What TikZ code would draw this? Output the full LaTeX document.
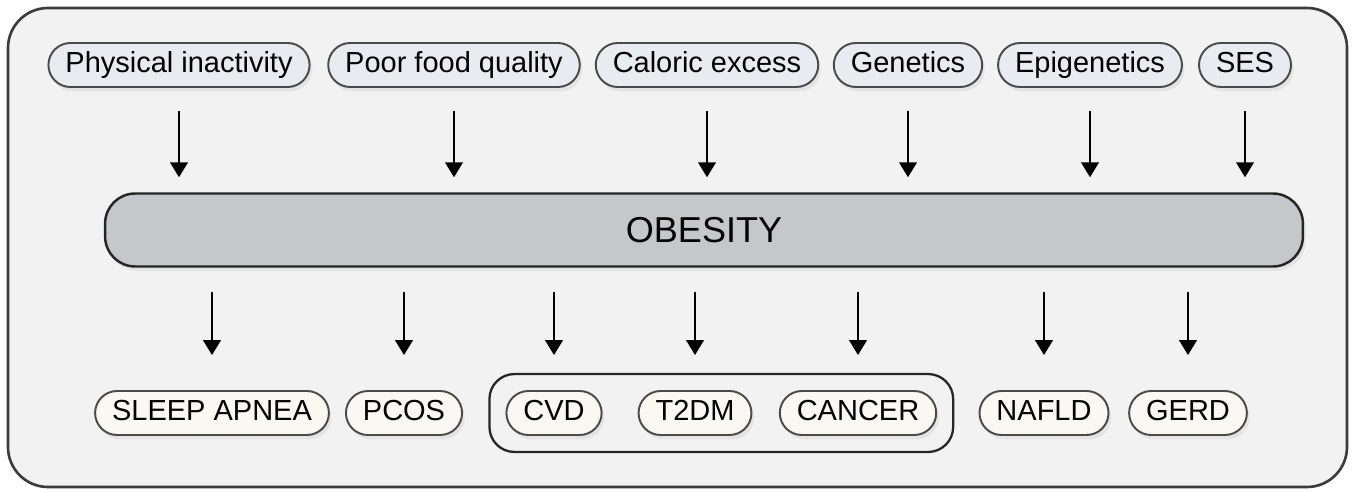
\documentclass[tikz,border=0pt]{standalone}
\usepackage{fontspec}
\setmainfont{Liberation Sans}
\usetikzlibrary{arrows.meta,fit,shadows}
\definecolor{panelfill}{HTML}{F2F2F2}
\definecolor{panelline}{HTML}{3C3C3C}
\definecolor{pillline}{HTML}{4A4A4A}
\definecolor{causefill}{HTML}{E8ECF0}
\definecolor{effectfill}{HTML}{FBF8F3}
\definecolor{barfill}{HTML}{C5C7CA}
\begin{document}
\begin{tikzpicture}[x=0.02cm, y=-0.02cm, >={Triangle[length=8.5pt,width=10pt]},
  cause/.style={draw=pillline, fill=causefill, line width=1.1pt, rounded corners=0.44cm,
    minimum height=0.88cm, inner xsep=0.34cm, text height=12pt, text depth=3.5pt,
    font=\fontsize{16.5}{20}\selectfont,
    drop shadow={opacity=0.12, shadow xshift=1.5pt, shadow yshift=-2.5pt}},
  effect/.style={cause, fill=effectfill},
  link/.style={->, line width=1.2pt}]
\useasboundingbox (0,0) rectangle (1355,493);
\draw[panelline, fill=panelfill, line width=1.5pt, rounded corners=0.8cm] (8,8) rectangle (1347,487);
% causes
\node[cause] (inact) at (179,65) {Physical inactivity};
\node[cause] (food) at (454,65) {Poor food quality};
\node[cause] (calor) at (707,65) {Caloric excess};
\node[cause] (genet) at (908,65) {Genetics};
\node[cause] (epig) at (1090,65) {Epigenetics};
\node[cause] (ses) at (1245,65) {SES};
% obesity
\node[draw=black!85, fill=barfill, line width=1.4pt, rounded corners=0.6cm,
  minimum width=23.96cm, minimum height=1.46cm, font=\fontsize{20.5}{24}\selectfont,
  drop shadow={opacity=0.12, shadow xshift=1.5pt, shadow yshift=-2.5pt}] (obes) at (704,230) {OBESITY};
% consequences
\node[effect] (apnea) at (212,413) {SLEEP APNEA};
\node[effect] (pcos) at (404,413) {PCOS};
\node[effect] (cvd) at (554,413) {CVD};
\node[effect] (t2dm) at (695,413) {T2DM};
\node[effect] (cancer) at (858,413) {CANCER};
\node[effect] (nafld) at (1044,413) {NAFLD};
\node[effect] (gerd) at (1188,413) {GERD};
\node[draw=black!85, line width=1.3pt, rounded corners=0.5cm, inner xsep=0.32cm, inner ysep=0.32cm,
  fit=(cvd)(t2dm)(cancer)] (cluster) {};
% arrows in
\foreach \c in {inact,food,calor,genet,epig,ses}
  \draw[link, shorten <=0.46cm, shorten >=0.3cm] (\c.south) -- (\c.south |- obes.north);
% arrows out
\foreach \e in {apnea,pcos,cvd,t2dm,cancer,nafld,gerd}
  \draw[link, shorten <=0.48cm, shorten >=0.7cm] (\e.north |- obes.south) -- (\e.north);
\end{tikzpicture}
\end{document}
